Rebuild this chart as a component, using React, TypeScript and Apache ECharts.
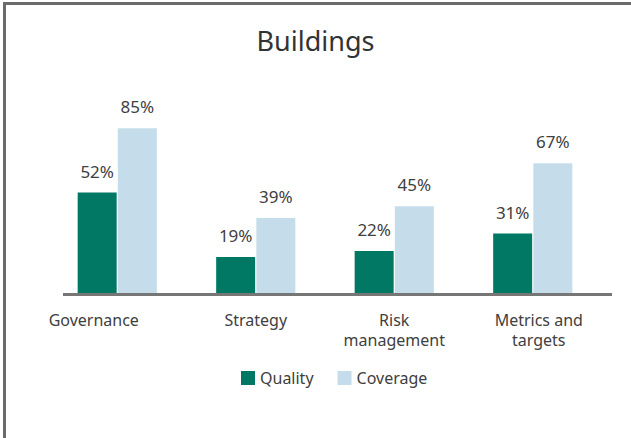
import React, { useEffect, useRef } from "react";
import * as echarts from "echarts";

const title = "Buildings";
const categories = ["Governance", "Strategy", "Risk management", "Metrics and targets"];
const qualityValues = [52, 19, 22, 31];
const coverageValues = [85, 39, 45, 67];
const seriesNames = ["Quality", "Coverage"];

const FONT = "'Noto Sans', sans-serif";
const TEXT = "#404040";

export default function App() {
  const ref = useRef<HTMLDivElement>(null);
  useEffect(() => {
    if (!ref.current) return;
    const chart = echarts.init(ref.current, null, { renderer: "svg" });
    const labelCfg = {
      show: true,
      position: "top",
      distance: 13,
      formatter: "{c}%",
      fontFamily: FONT,
      fontSize: 17,
      color: TEXT,
    };
    chart.setOption({
      animation: false,
      backgroundColor: "#ffffff",
      title: {
        text: title,
        left: "center",
        top: 22,
        textStyle: { fontFamily: FONT, fontSize: 27, fontWeight: "normal", color: "#333333" },
      },
      legend: {
        data: seriesNames,
        left: 241,
        top: 370,
        padding: 0,
        icon: "rect",
        itemWidth: 14,
        itemHeight: 14,
        itemGap: 24,
        textStyle: { fontFamily: FONT, fontSize: 16, color: TEXT },
      },
      grid: { left: 48, right: 29, top: 99, bottom: 144 },
      xAxis: {
        type: "category",
        data: categories,
        axisLine: { show: false },
        axisTick: { show: false },
        axisLabel: {
          interval: 0,
          margin: 16,
          fontFamily: FONT,
          fontSize: 16,
          lineHeight: 20,
          color: TEXT,
          formatter: (v: string) => {
            if (v === "Governance") return "{gov|" + v + "}";
            if (v === "Risk management") return "{n|Risk}\n{n|management}";
            if (v === "Metrics and targets") return "{met|Metrics and}\n{met|targets}";
            return "{n|" + v + "}";
          },
          rich: {
            gov: { fontFamily: FONT, fontSize: 16, lineHeight: 20, color: TEXT, padding: [0, 47, 0, 0] },
            met: { fontFamily: FONT, fontSize: 16, lineHeight: 20, color: TEXT, padding: [0, 0, 0, 12] },
            n: { fontFamily: FONT, fontSize: 16, lineHeight: 20, color: TEXT },
          },
        },
      },
      yAxis: {
        type: "value",
        min: 0,
        max: 100,
        show: false,
        splitLine: { show: false },
      },
      series: [
        {
          name: seriesNames[0],
          type: "bar",
          data: qualityValues,
          barWidth: 39,
          barGap: "3%",
          itemStyle: { color: "#007864" },
          label: labelCfg,
        },
        {
          name: seriesNames[1],
          type: "bar",
          data: coverageValues,
          barWidth: 39,
          itemStyle: { color: "#C5DDEB" },
          label: labelCfg,
        },
      ],
      graphic: [
        {
          type: "line",
          shape: { x1: 63, y1: 294.5, x2: 612, y2: 294.5 },
          style: { stroke: "#767676", lineWidth: 3 },
          z: 10,
        },
        {
          type: "line",
          shape: { x1: 4.5, y1: 2, x2: 4.5, y2: 438 },
          style: { stroke: "#6b6b6b", lineWidth: 3 },
        },
        {
          type: "line",
          shape: { x1: 3, y1: 3.5, x2: 631, y2: 3.5 },
          style: { stroke: "#6b6b6b", lineWidth: 3 },
        },
      ],
    });
    return () => chart.dispose();
  }, []);
  return (
    <div
      ref={ref}
      style={{ position: "fixed", left: 0, top: 0, width: 631, height: 438 }}
    />
  );
}
